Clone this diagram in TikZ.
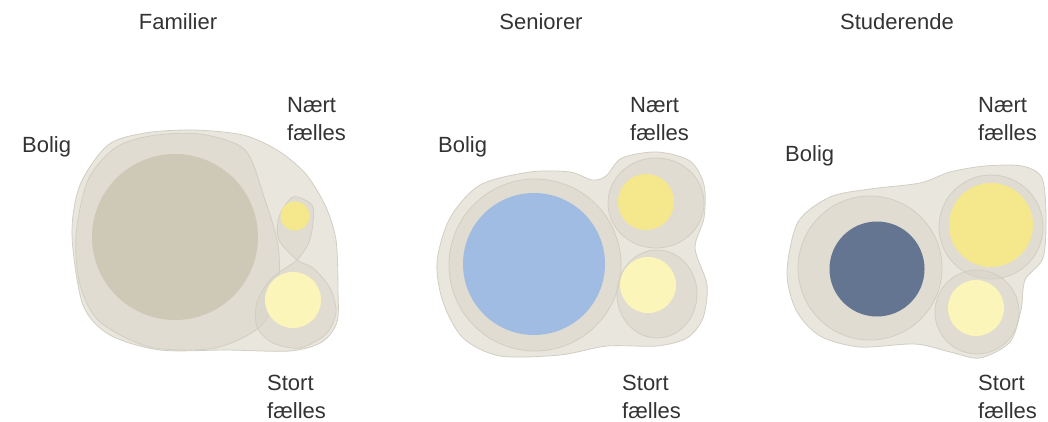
\documentclass[tikz,border=0pt]{standalone}
\usepackage{fontspec}
\setmainfont{Liberation Sans}
\definecolor{outerfill}{HTML}{E9E6DE}
\definecolor{ringfill}{HTML}{D9D4C8}
\definecolor{edgeline}{HTML}{D2CEC2}
\definecolor{boligbig}{HTML}{CEC8B6}
\definecolor{boligblue}{HTML}{A0BCE2}
\definecolor{boligdark}{HTML}{637590}
\definecolor{naertyellow}{HTML}{F5E88C}
\definecolor{stortyellow}{HTML}{FBF5B9}
\tikzset{
  outerblob/.style={fill=outerfill,draw=edgeline,line width=0.8pt},
  ringblob/.style={fill=ringfill,fill opacity=0.55,draw=edgeline,line width=0.8pt},
  label/.style={anchor=base west,inner sep=0pt,align=left,text=black!80,
    font=\fontsize{22}{28}\selectfont},
  title/.style={anchor=base,inner sep=0pt,text=black!80,
    font=\fontsize{22}{28}\selectfont}
}
\begin{document}
\begin{tikzpicture}[x=1pt,y=-1pt]
\useasboundingbox (0,0) rectangle (1048,422);

\node[title] (famtitle) at (178,30) {Familier};
\node[title] (sentitle) at (541,30) {Seniorer};
\node[title] (studtitle) at (897,30) {Studerende};

\draw[outerblob] plot[smooth cycle] coordinates {(72,235) (80,185) (108,145) (145,133)
  (193,130) (243,135) (277,150) (305,173) (325,205) (336,240) (338,290) (337,322)
  (322,342) (290,351) (227,350) (160,350) (110,335) (83,305)};
\draw[ringblob] plot[smooth cycle] coordinates {(76,235) (88,180) (115,148) (150,136)
  (200,134) (245,150) (265,200) (278,245) (278,285) (262,325) (215,348) (150,347)
  (100,322) (80,285)};
\draw[ringblob] plot[smooth cycle] coordinates {(297,260) (279,240) (279,217) (293,197)
  (312,205) (313,222) (309,242) (297,260) (272,278) (257,302) (257,327) (273,343)
  (300,348) (326,334) (336,312) (330,288) (313,268)};
\fill[boligbig] (175,237) circle (83);
\fill[naertyellow] (295,216) circle (14.5);
\fill[stortyellow] (293,300) circle (28);

\node[label] (famb) at (22,153) {Bolig};
\node[label] (famn) at (287,141) {Nært\\fælles};
\node[label] (fams) at (267,418) {Stort\\fælles};

\draw[outerblob] plot[smooth cycle] coordinates {(437,262) (450,218) (480,185) (530,172)
  (570,172) (592,180) (606,176) (622,158) (657,152) (690,161) (704,185) (704,218)
  (695,248) (707,285) (703,318) (687,338) (657,346) (607,346) (560,355) (500,356)
  (463,338) (443,302)};
\draw[ringblob] (535,265) circle (86);
\draw[ringblob] (656,203) ellipse (48 and 45);
\draw[ringblob] (657,294) ellipse (40 and 44);
\fill[boligblue] (534,264) circle (71);
\fill[naertyellow] (646,202) circle (28);
\fill[stortyellow] (648,285) circle (28);

\node[label] (senb) at (438,153) {Bolig};
\node[label] (senn) at (630,141) {Nært\\fælles};
\node[label] (sens) at (622,418) {Stort\\fælles};

\draw[outerblob] plot[smooth cycle] coordinates {(787,272) (798,222) (830,197) (870,189)
  (920,183) (950,172) (985,166) (1022,166) (1042,178) (1046,217) (1043,258) (1025,280)
  (1021,310) (1010,342) (980,358) (950,352) (915,344) (860,347) (820,336) (796,310)};
\draw[ringblob] (870,268) circle (72);
\draw[ringblob] (991,227) circle (52);
\draw[ringblob] (977,312) circle (42);
\fill[boligdark] (877,269) circle (47.5);
\fill[naertyellow] (991,225) circle (42);
\fill[stortyellow] (976,308) circle (28);

\node[label] (studb) at (785,162) {Bolig};
\node[label] (studn) at (978,141) {Nært\\fælles};
\node[label] (studs) at (978,418) {Stort\\fælles};
\end{tikzpicture}
\end{document}
